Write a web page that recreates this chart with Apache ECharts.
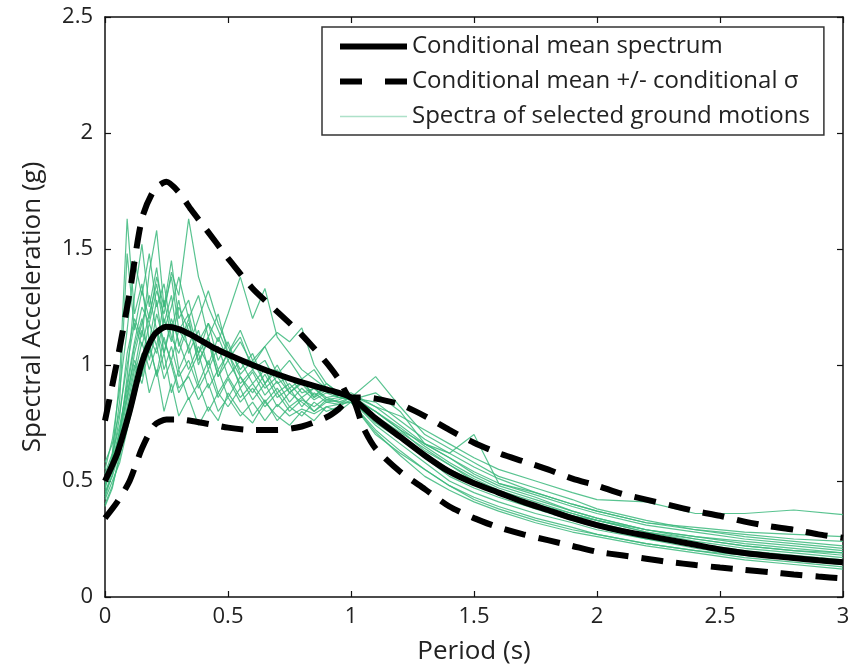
<!DOCTYPE html>
<html>
<head>
<meta charset="utf-8">
<script src="https://cdn.jsdelivr.net/npm/echarts@6/dist/echarts.min.js"></script>
<style>
html,body{margin:0;padding:0;background:#fff;}
#chart{width:860px;height:670px;}
</style>
</head>
<body>
<div id="chart"></div>
<script>
// ---------- DATA ----------
const xTicks = [0, 0.5, 1, 1.5, 2, 2.5, 3];
const yTicks = [0, 0.5, 1, 1.5, 2, 2.5];

const meanPeriods = [0, 0.05, 0.1, 0.15, 0.2, 0.25, 0.3, 0.35, 0.4, 0.45, 0.5, 0.6, 0.7, 0.8, 0.9, 1.0, 1.1, 1.2, 1.3, 1.4, 1.5, 1.6, 1.7, 1.8, 1.9, 2.0, 2.1, 2.2, 2.3, 2.4, 2.5, 2.6, 2.7, 2.8, 2.9, 3.0];
const meanValues  = [0.50, 0.62, 0.80, 1.01, 1.13, 1.165, 1.155, 1.13, 1.10, 1.07, 1.045, 1.00, 0.96, 0.925, 0.895, 0.86, 0.77, 0.69, 0.61, 0.54, 0.49, 0.45, 0.41, 0.375, 0.34, 0.31, 0.285, 0.265, 0.245, 0.225, 0.205, 0.19, 0.178, 0.168, 0.158, 0.15];

const upperPeriods = [0, 0.05, 0.1, 0.15, 0.2, 0.25, 0.3, 0.35, 0.4, 0.45, 0.5, 0.6, 0.7, 0.8, 0.9, 0.95, 1.0, 1.05, 1.1, 1.2, 1.3, 1.4, 1.5, 1.6, 1.7, 1.8, 1.9, 2.0, 2.1, 2.2, 2.3, 2.4, 2.5, 2.6, 2.7, 2.8, 2.9, 3.0];
const upperValues  = [0.76, 1.02, 1.31, 1.63, 1.755, 1.79, 1.745, 1.67, 1.60, 1.53, 1.46, 1.33, 1.23, 1.13, 1.01, 0.94, 0.86, 0.86, 0.855, 0.83, 0.78, 0.72, 0.665, 0.62, 0.585, 0.55, 0.51, 0.48, 0.445, 0.42, 0.395, 0.37, 0.35, 0.325, 0.305, 0.29, 0.27, 0.255];

const lowerPeriods = [0, 0.05, 0.1, 0.15, 0.2, 0.25, 0.3, 0.4, 0.5, 0.6, 0.7, 0.8, 0.9, 0.95, 1.0, 1.05, 1.1, 1.2, 1.3, 1.4, 1.5, 1.6, 1.7, 1.8, 1.9, 2.0, 2.1, 2.2, 2.3, 2.4, 2.5, 2.6, 2.7, 2.8, 2.9, 3.0];
const lowerValues  = [0.34, 0.41, 0.50, 0.64, 0.74, 0.765, 0.765, 0.75, 0.73, 0.72, 0.72, 0.735, 0.775, 0.81, 0.86, 0.73, 0.64, 0.54, 0.465, 0.39, 0.34, 0.30, 0.27, 0.245, 0.22, 0.195, 0.18, 0.165, 0.15, 0.138, 0.127, 0.117, 0.107, 0.097, 0.088, 0.08];

const gmPeriods = [0, 0.03, 0.06, 0.09, 0.12, 0.15, 0.18, 0.21, 0.24, 0.27, 0.3, 0.34, 0.38, 0.42, 0.46, 0.5, 0.55, 0.6, 0.65, 0.7, 0.75, 0.8, 0.85, 0.9, 0.95, 1.0, 1.1, 1.2, 1.3, 1.4, 1.5, 1.6, 1.75, 1.9, 2.0, 2.2, 2.4, 2.6, 2.8, 3.0];
const gm01 = [0.46, 0.62, 0.95, 1.63, 1.22, 1.35, 1.10, 1.28, 1.05, 1.18, 0.98, 1.08, 0.92, 1.02, 0.88, 0.95, 0.86, 0.92, 0.84, 0.90, 0.82, 0.86, 0.80, 0.84, 0.83, 0.86, 0.78, 0.70, 0.62, 0.55, 0.50, 0.45, 0.40, 0.35, 0.32, 0.27, 0.23, 0.20, 0.18, 0.16];
const gm02 = [0.52, 0.60, 0.78, 1.05, 1.20, 1.12, 1.40, 1.58, 1.25, 1.38, 1.15, 1.22, 1.05, 1.12, 0.98, 1.05, 0.95, 0.88, 0.96, 0.86, 0.90, 0.82, 0.88, 0.84, 0.85, 0.87, 0.82, 0.74, 0.66, 0.60, 0.53, 0.48, 0.43, 0.37, 0.34, 0.29, 0.25, 0.22, 0.20, 0.18];
const gm03 = [0.44, 0.55, 0.72, 0.92, 1.10, 1.25, 1.18, 1.32, 1.22, 1.40, 1.30, 1.63, 1.38, 1.25, 1.15, 1.05, 1.12, 0.98, 1.02, 0.92, 0.95, 0.88, 0.90, 0.85, 0.84, 0.86, 0.80, 0.72, 0.63, 0.57, 0.51, 0.46, 0.40, 0.36, 0.33, 0.28, 0.25, 0.22, 0.20, 0.19];
const gm04 = [0.48, 0.58, 0.70, 0.88, 1.02, 0.95, 1.12, 1.05, 1.20, 1.10, 1.25, 1.15, 1.05, 1.18, 1.10, 1.22, 1.38, 1.20, 1.33, 1.12, 1.05, 0.98, 0.94, 0.90, 0.86, 0.85, 0.88, 0.80, 0.66, 0.62, 0.70, 0.49, 0.45, 0.40, 0.37, 0.32, 0.29, 0.27, 0.25, 0.24];
const gm05 = [0.40, 0.48, 0.60, 0.78, 0.92, 1.05, 0.88, 0.98, 0.80, 0.92, 0.78, 0.86, 0.74, 0.82, 0.76, 0.88, 0.80, 0.75, 0.84, 0.78, 0.74, 0.80, 0.76, 0.82, 0.80, 0.84, 0.70, 0.62, 0.55, 0.48, 0.43, 0.39, 0.34, 0.30, 0.27, 0.23, 0.20, 0.17, 0.15, 0.13];
const gm06 = [0.55, 0.68, 0.90, 1.15, 1.45, 1.30, 1.48, 1.25, 1.35, 1.15, 1.28, 1.05, 1.15, 0.98, 1.08, 0.95, 1.02, 0.92, 0.98, 0.88, 0.92, 0.86, 0.90, 0.86, 0.87, 0.85, 0.75, 0.68, 0.60, 0.52, 0.47, 0.43, 0.38, 0.33, 0.30, 0.25, 0.22, 0.19, 0.17, 0.15];
const gm07 = [0.50, 0.57, 0.66, 0.82, 0.98, 1.15, 1.05, 1.22, 1.10, 1.02, 1.15, 1.08, 1.20, 1.32, 1.18, 1.08, 0.98, 1.05, 0.92, 1.00, 0.90, 0.94, 0.86, 0.92, 0.88, 0.86, 0.95, 0.82, 0.70, 0.64, 0.58, 0.52, 0.47, 0.42, 0.38, 0.33, 0.29, 0.26, 0.24, 0.22];
const gm08 = [0.42, 0.50, 0.58, 0.72, 0.85, 0.98, 1.10, 0.95, 1.05, 0.88, 0.98, 0.85, 0.92, 0.80, 0.88, 0.82, 0.90, 0.78, 0.85, 0.76, 0.82, 0.78, 0.84, 0.80, 0.82, 0.85, 0.74, 0.66, 0.58, 0.50, 0.45, 0.41, 0.36, 0.32, 0.29, 0.25, 0.21, 0.18, 0.16, 0.14];
const gm09 = [0.47, 0.60, 0.85, 1.48, 1.15, 1.32, 1.20, 1.38, 1.25, 1.45, 1.20, 1.28, 1.10, 1.18, 1.02, 1.10, 0.96, 1.02, 0.92, 0.98, 0.88, 0.93, 0.87, 0.90, 0.86, 0.86, 0.78, 0.71, 0.64, 0.57, 0.50, 0.46, 0.41, 0.36, 0.33, 0.28, 0.24, 0.21, 0.19, 0.17];
const gm10 = [0.45, 0.52, 0.63, 0.78, 0.90, 1.02, 1.18, 1.08, 1.28, 1.12, 1.05, 1.18, 1.02, 1.10, 0.95, 1.02, 0.92, 0.98, 0.90, 0.95, 0.88, 0.92, 0.86, 0.89, 0.87, 0.88, 0.82, 0.78, 0.72, 0.66, 0.60, 0.55, 0.50, 0.45, 0.42, 0.41, 0.36, 0.36, 0.375, 0.355];
const gm11 = [0.53, 0.62, 0.74, 0.90, 1.08, 1.20, 1.02, 1.15, 0.98, 1.08, 0.95, 1.02, 0.90, 0.98, 0.86, 0.94, 0.84, 0.90, 0.82, 0.88, 0.80, 0.85, 0.82, 0.86, 0.84, 0.84, 0.72, 0.63, 0.55, 0.48, 0.42, 0.38, 0.33, 0.29, 0.27, 0.23, 0.20, 0.18, 0.16, 0.14];
const gm12 = [0.49, 0.56, 0.70, 0.95, 1.30, 1.52, 1.25, 1.42, 1.18, 1.30, 1.08, 1.20, 1.00, 1.12, 0.95, 1.06, 0.90, 0.97, 0.87, 0.93, 0.84, 0.90, 0.85, 0.88, 0.86, 0.87, 0.80, 0.73, 0.65, 0.58, 0.52, 0.47, 0.42, 0.37, 0.34, 0.29, 0.26, 0.24, 0.22, 0.20];
const gm13 = [0.43, 0.53, 0.68, 0.85, 1.00, 0.92, 1.08, 0.96, 1.12, 1.00, 0.88, 0.96, 1.05, 0.90, 0.98, 0.86, 0.95, 0.85, 0.92, 0.82, 0.88, 0.84, 0.80, 0.85, 0.86, 0.85, 0.77, 0.69, 0.61, 0.55, 0.49, 0.45, 0.40, 0.35, 0.33, 0.29, 0.26, 0.23, 0.21, 0.19];
const gm14 = [0.51, 0.59, 0.72, 0.86, 1.05, 1.18, 1.30, 1.15, 1.05, 1.20, 1.10, 0.98, 1.08, 1.00, 1.12, 1.02, 1.10, 1.00, 1.08, 1.14, 1.10, 1.16, 1.00, 0.92, 0.88, 0.86, 0.80, 0.72, 0.66, 0.60, 0.54, 0.49, 0.44, 0.39, 0.36, 0.31, 0.28, 0.25, 0.23, 0.21];
const gm15 = [0.58, 0.66, 0.80, 1.00, 1.18, 1.08, 1.22, 1.35, 1.15, 1.25, 1.38, 1.20, 1.30, 1.12, 1.22, 1.05, 1.15, 1.02, 1.08, 0.96, 1.02, 0.94, 0.98, 0.90, 0.88, 0.86, 0.84, 0.76, 0.68, 0.62, 0.56, 0.51, 0.45, 0.40, 0.37, 0.32, 0.30, 0.28, 0.27, 0.26];
const gm16 = [0.39, 0.47, 0.62, 0.80, 0.95, 1.10, 0.98, 1.08, 0.94, 1.02, 0.90, 0.95, 0.85, 0.92, 0.80, 0.86, 0.78, 0.84, 0.76, 0.83, 0.78, 0.81, 0.79, 0.82, 0.83, 0.84, 0.71, 0.61, 0.52, 0.46, 0.41, 0.37, 0.32, 0.28, 0.26, 0.22, 0.19, 0.16, 0.14, 0.12];
const groundMotions = [gm01, gm02, gm03, gm04, gm05, gm06, gm07, gm08, gm09, gm10, gm11, gm12, gm13, gm14, gm15, gm16];

const nameMean = 'Conditional mean spectrum';
const nameSigma = 'Conditional mean +/- conditional σ';
const nameGM = 'Spectra of selected ground motions';

// ---------- CHART ----------
const FONT = 'Open Sans';
const zip = (xs, ys) => xs.map((x, i) => [x, ys[i]]);
const chart = echarts.init(document.getElementById('chart'), null, {renderer: 'canvas'});

const series = [];
groundMotions.forEach(vals => {
  series.push({
    name: nameGM, type: 'line', data: zip(gmPeriods, vals),
    showSymbol: false, symbol: 'none', silent: true, z: 2,
    lineStyle: {color: '#3cb97c', width: 1.2, opacity: 0.85},
    itemStyle: {color: '#3cb97c'}
  });
});
const dashStyle = {color: '#000', width: 6, type: [22, 13], cap: 'butt'};
series.push({
  name: nameSigma, type: 'line', data: zip(upperPeriods, upperValues),
  symbol: 'none', smooth: 0.25, z: 3,
  lineStyle: dashStyle, itemStyle: {color: '#000'}
});
series.push({
  name: nameSigma, type: 'line', data: zip(lowerPeriods, lowerValues),
  symbol: 'none', smooth: 0.25, z: 3,
  lineStyle: dashStyle, itemStyle: {color: '#000'}
});
series.push({
  name: nameMean, type: 'line', data: zip(meanPeriods, meanValues),
  symbol: 'none', smooth: 0.25, z: 4,
  lineStyle: {color: '#000', width: 6}, itemStyle: {color: '#000'}
});

const axisLine = {show: true, onZero: false, lineStyle: {color: '#111', width: 1.5}};
const axisTick = {show: true, inside: true, length: 6, lineStyle: {color: '#111', width: 1.2}};

chart.setOption({
  animation: false,
  backgroundColor: '#fff',
  textStyle: {fontFamily: FONT},
  grid: {left: 105, right: 17, top: 17, bottom: 70, containLabel: false},
  legend: {
    show: true,
    left: 322, top: 27,
    orient: 'vertical',
    padding: [7, 14, 6, 15],
    itemGap: 10,
    itemWidth: 67, itemHeight: 14,
    backgroundColor: '#fff',
    borderColor: '#333', borderWidth: 1.5, borderRadius: 0,
    textStyle: {fontFamily: FONT, fontSize: 24, color: '#222', lineHeight: 25},
    selectedMode: false,
    data: [
      {name: nameMean, itemStyle: {opacity: 0}, lineStyle: {color: '#000', width: 6, type: 'solid'}},
      {name: nameSigma, itemStyle: {opacity: 0}, lineStyle: {color: '#000', width: 6, type: [22, 23]}},
      {name: nameGM, itemStyle: {opacity: 0}, lineStyle: {color: '#9fdcc0', width: 1.5, type: 'solid'}}
    ]
  },
  xAxis: [{
    type: 'value', min: xTicks[0], max: xTicks[xTicks.length - 1], interval: 0.5,
    position: 'bottom',
    axisLine, axisTick,
    splitLine: {show: false},
    axisLabel: {fontFamily: FONT, fontSize: 22, color: '#222', margin: 9},
    name: 'Period (s)', nameLocation: 'middle', nameGap: 42,
    nameTextStyle: {fontFamily: FONT, fontSize: 26, color: '#222'}
  }, {
    type: 'value', min: xTicks[0], max: xTicks[xTicks.length - 1], interval: 0.5,
    position: 'top',
    axisLine, axisTick,
    splitLine: {show: false}, axisLabel: {show: false}
  }],
  yAxis: [{
    type: 'value', min: yTicks[0], max: yTicks[yTicks.length - 1], interval: 0.5,
    position: 'left',
    axisLine, axisTick,
    splitLine: {show: false},
    axisLabel: {fontFamily: FONT, fontSize: 22, color: '#222', margin: 12},
    name: 'Spectral Acceleration (g)', nameLocation: 'middle', nameGap: 59, nameRotate: 90,
    nameTextStyle: {fontFamily: FONT, fontSize: 26, color: '#222'}
  }, {
    type: 'value', min: yTicks[0], max: yTicks[yTicks.length - 1], interval: 0.5,
    position: 'right',
    axisLine, axisTick,
    splitLine: {show: false}, axisLabel: {show: false}
  }],
  series
});
</script>
</body>
</html>
